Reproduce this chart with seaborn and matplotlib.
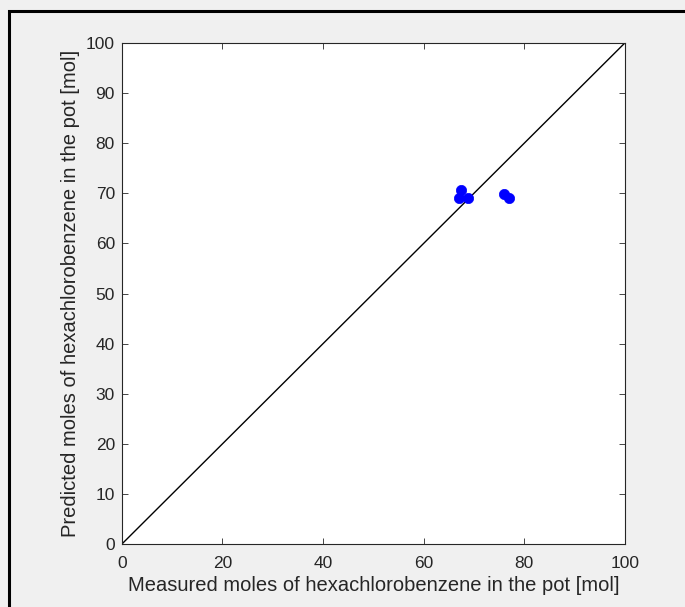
import matplotlib
matplotlib.use("Agg")
import matplotlib.pyplot as plt
import seaborn as sns
import pandas as pd
from matplotlib.patches import Rectangle

measured = [67.5, 67.0, 68.9, 75.9, 77.0]
predicted = [70.6, 69.0, 69.0, 69.8, 69.0]
ticks_x = [0, 20, 40, 60, 80, 100]
ticks_y = [0, 10, 20, 30, 40, 50, 60, 70, 80, 90, 100]
diag = [0, 100]

sns.set_style("white")
plt.rcParams['font.family'] = ['Liberation Sans', 'DejaVu Sans']

fig = plt.figure(figsize=(6.85, 6.07), dpi=100, facecolor='#f0f0f0')
ax = fig.add_axes([0.178, 0.1038, 0.734, 0.8252])
ax.set_facecolor('white')

df = pd.DataFrame({'m': measured, 'p': predicted})
sns.lineplot(x=diag, y=diag, ax=ax, color='black', linewidth=1.0)
sns.scatterplot(data=df, x='m', y='p', ax=ax, color='blue', s=55,
                edgecolor='blue', linewidth=0.5, zorder=3)

ax.set_xlim(0, 100)
ax.set_ylim(0, 100)
ax.set_xticks(ticks_x)
ax.set_yticks(ticks_y)
ax.tick_params(direction='in', length=4, width=0.6, colors='#262626',
               labelsize=12.5, top=True, right=True, labeltop=False, labelright=False,
               bottom=True, left=True)
ax.tick_params(axis='x', pad=8.5)
ax.tick_params(axis='y', pad=5)
for sp in ax.spines.values():
    sp.set_visible(True)
    sp.set_color('#262626')
    sp.set_linewidth(0.8)
ax.set_xlabel('Measured moles of hexachlorobenzene in the pot [mol]', fontsize=14.5, color='#262626', labelpad=4)
ax.set_ylabel('Predicted moles of hexachlorobenzene in the pot [mol]', fontsize=14.5, color='#262626', labelpad=4)

fig.patches.append(Rectangle((8.5/685, -0.1), 1.2, 1.1 - 10.5/607,
                             transform=fig.transFigure, fill=False,
                             edgecolor='black', linewidth=2.2, zorder=10))

fig.savefig('out.png', dpi=100, facecolor=fig.get_facecolor())
